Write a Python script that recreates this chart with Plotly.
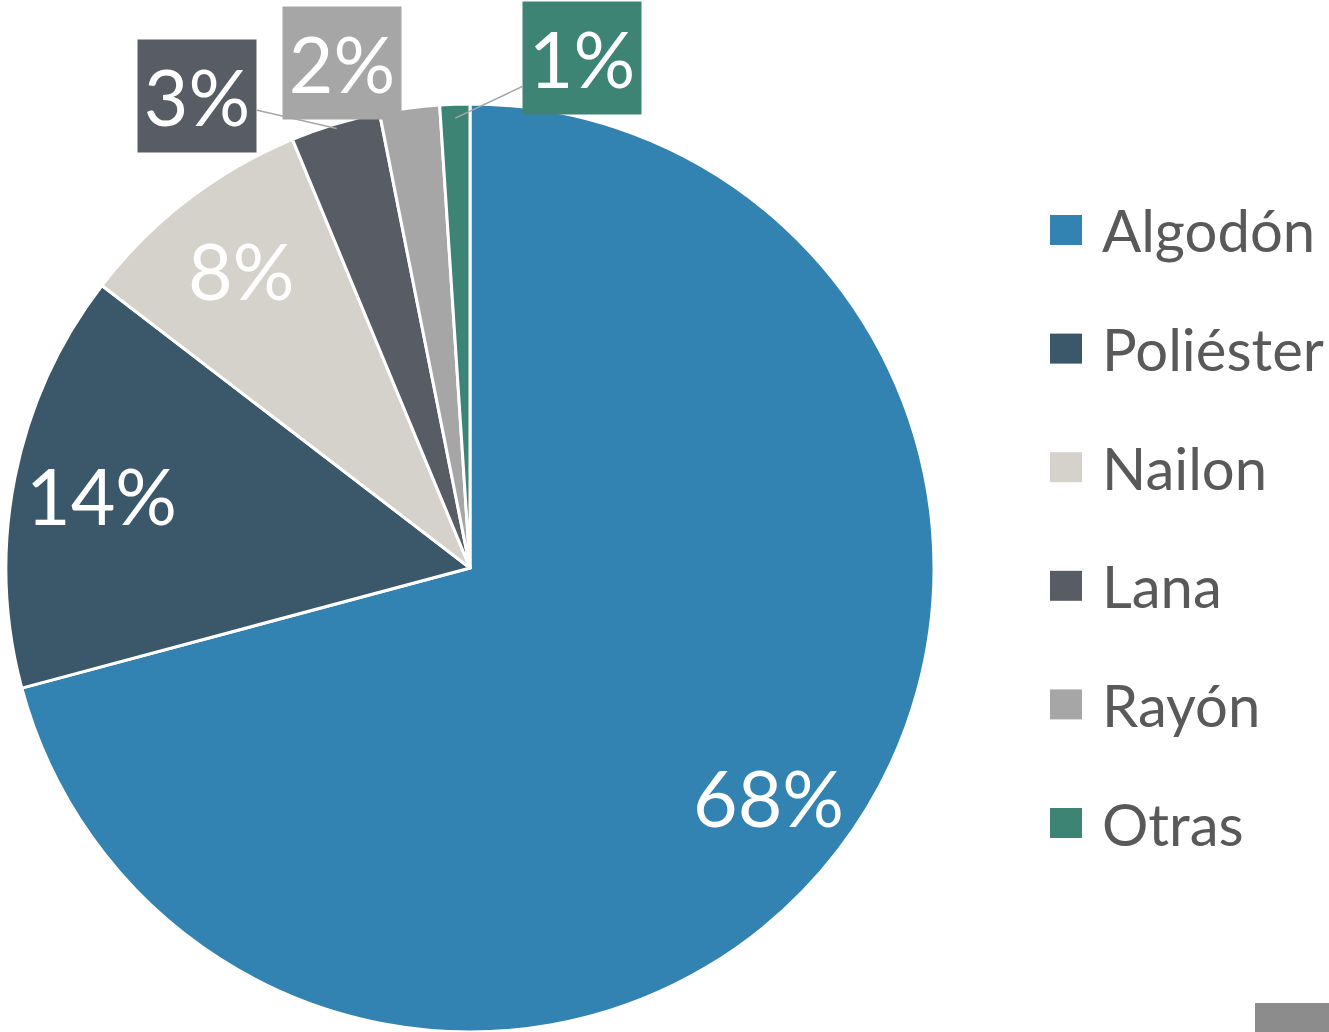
import math
import plotly.graph_objects as go

W, H = 1329, 1032

fibras = ["Algodón", "Poliéster", "Nailon", "Lana", "Rayón", "Otras"]
valores = [68, 14, 8, 3, 2, 1]
colores = ["#3282b2", "#3a586a", "#d5d2cb", "#585c65", "#a6a6a6", "#3e8474"]

# pie placement (pixels)
cx_px, cy_px, r_px = 470, 568, 464
dom_x = [(cx_px - r_px) / W, (cx_px + r_px) / W]
dom_y = [1 - (cy_px + r_px) / H, 1 - (cy_px - r_px) / H]

fig = go.Figure(go.Pie(
    labels=fibras,
    values=valores,
    sort=False,
    direction="clockwise",
    rotation=0,
    marker=dict(colors=colores, line=dict(color="white", width=3)),
    textinfo="none",
    hoverinfo="label+value",
    domain=dict(x=dom_x, y=dom_y),
    showlegend=False,
))

# data labels: big slices inside, small ones in boxes outside
total = sum(valores)
offsets = {3: (-140, -32, True), 4: (-68, -50, False), 5: (127, -60, True)}
acum = 0
annotations = []
for i, v in enumerate(valores):
    mid = (acum + v / 2) / total * 2 * math.pi
    acum += v
    fuente = dict(family="Lato", size=77, color="white")
    if i not in offsets:
        rr = r_px * 0.81
        px = cx_px + rr * math.sin(mid)
        py = cy_px - rr * math.cos(mid)
        annotations.append(dict(x=px / W, y=1 - py / H, xref="paper", yref="paper",
                                text=f"{v}%", font=fuente, showarrow=False,
                                xanchor="center", yanchor="middle"))
        continue
    rr = r_px * (0.97 if i == 5 else 0.99)
    tx = cx_px + rr * math.sin(mid)
    ty = cy_px - rr * math.cos(mid)
    ax, ay, arrow = offsets[i]
    a = dict(x=tx / W, y=1 - ty / H, xref="paper", yref="paper",
             text=f"{v}%", font=fuente, xanchor="center", yanchor="middle",
             bgcolor=colores[i], width=116, height=110, align="center")
    if arrow:
        a.update(showarrow=True, ax=ax, ay=ay, arrowhead=0,
                 arrowcolor="#a6a6a6", arrowwidth=1.5)
    else:
        a.update(showarrow=False, xshift=ax, yshift=-ay)
    annotations.append(a)

# legend drawn by hand so the swatches can be large
shapes = []
for i, (f, c) in enumerate(zip(fibras, colores)):
    yc = 230 + i * 118.6
    shapes.append(dict(type="rect", xref="paper", yref="paper",
                       x0=1050 / W, x1=1082 / W,
                       y0=1 - (yc + 15) / H, y1=1 - (yc - 15) / H,
                       fillcolor=c, line=dict(width=0)))
    annotations.append(dict(x=1100 / W, y=1 - yc / H, xref="paper", yref="paper",
                            text=f, showarrow=False, xanchor="left", yanchor="middle",
                            font=dict(family="Lato", size=58, color="#595959")))

shapes.append(dict(type="rect", xref="paper", yref="paper",
                   x0=1255 / W, x1=1.0, y0=0, y1=1 - 1003 / H,
                   fillcolor="#8c8c8c", line=dict(width=0)))

fig.update_layout(
    width=W, height=H,
    margin=dict(l=0, r=0, t=0, b=0),
    paper_bgcolor="white",
    plot_bgcolor="white",
    annotations=annotations,
    shapes=shapes,
)

fig.write_html("out.html", config={"displayModeBar": False},
               post_script="document.body.style.margin='0';")
